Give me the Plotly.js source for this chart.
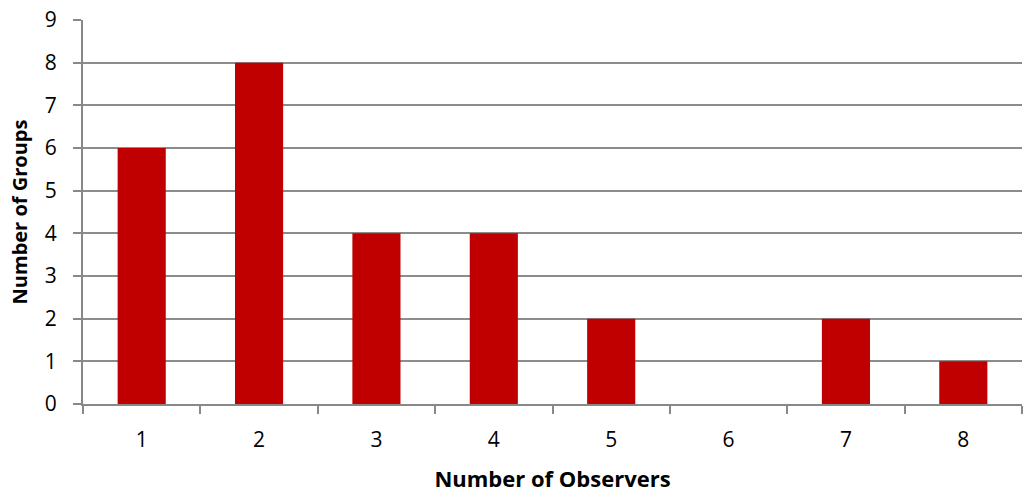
<!DOCTYPE html>
<html>
<head>
<meta charset="utf-8">
<script src="https://cdn.plot.ly/plotly-3.0.1.min.js"></script>
<style>html,body{margin:0;padding:0;background:#fff;}#chart{width:1025px;height:493px;}</style>
</head>
<body>
<div id="chart"></div>
<script>
var categories = ["1", "2", "3", "4", "5", "6", "7", "8"];
var groups = [6, 8, 4, 4, 2, 0, 2, 1];
var yTicks = [0, 1, 2, 3, 4, 5, 6, 7, 8, 9];

var font = "Open Sans, Noto Sans, sans-serif";
Plotly.newPlot("chart", [{
  type: "bar",
  x: categories,
  y: groups,
  marker: {color: "#C00000"},
  hoverinfo: "x+y"
}], {
  width: 1025, height: 493,
  margin: {l: 83, r: 3, t: 20, b: 89},
  paper_bgcolor: "#fff", plot_bgcolor: "#fff",
  bargap: 0.59,
  showlegend: false,
  font: {family: font, size: 21, color: "#000"},
  xaxis: {
    type: "category",
    tickson: "boundaries",
    ticks: "outside", ticklen: 8, tickcolor: "#888", tickwidth: 2,
    showline: true, linecolor: "#888", linewidth: 2,
    showgrid: false,
    tickfont: {family: font, size: 21, color: "#000"},
    ticklabelstandoff: 16,
    title: {text: "<b>Number of Observers</b>", font: {family: font, size: 22, color: "#000"}, standoff: 19}
  },
  yaxis: {
    range: [0, 9],
    tickvals: yTicks,
    ticks: "outside", ticklen: 8, tickcolor: "#888", tickwidth: 2,
    showline: true, linecolor: "#888", linewidth: 2,
    showgrid: true, gridcolor: "#8c8c8c", gridwidth: 2,
    zeroline: false,
    tickfont: {family: font, size: 21, color: "#000"},
    ticklabelstandoff: 12,
    title: {text: "<b>Number of Groups</b>", font: {family: font, size: 20, color: "#000"}, standoff: 12}
  }
}, {displayModeBar: false, staticPlot: true});
</script>
</body>
</html>
